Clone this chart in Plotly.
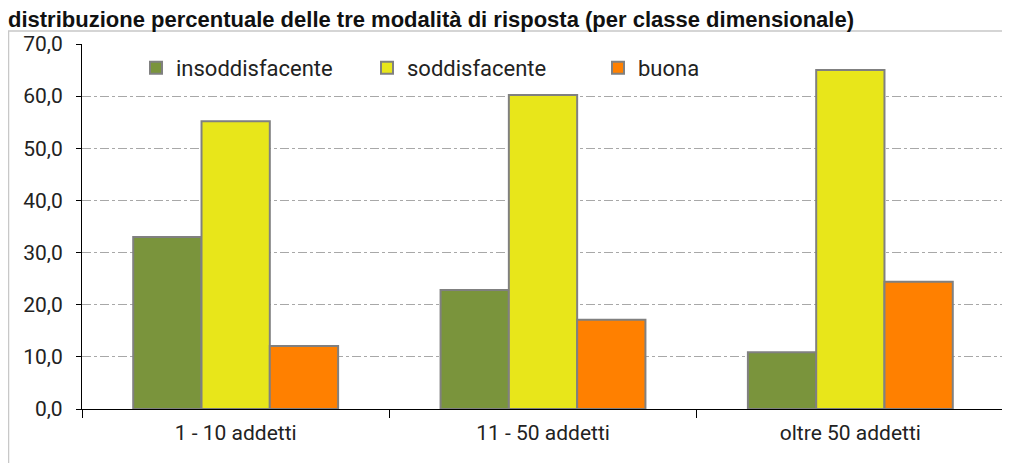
import plotly.graph_objects as go

categories = ["1 - 10 addetti", "11 - 50 addetti", "oltre 50 addetti"]
insoddisfacente = [33.0, 22.8, 10.9]
soddisfacente = [55.2, 60.2, 65.0]
buona = [12.1, 17.1, 24.4]
series_names = ["insoddisfacente", "soddisfacente", "buona"]
colors = ["#7A943C", "#E8E61A", "#FF8000"]
title_text = "distribuzione percentuale delle tre modalità di risposta (per classe dimensionale)"

# page is shown with an 8px body margin, so figure coords = page coords - 8
OFF = 8
W, H = 1010 - OFF, 463 - OFF
ml, mr, mt, mb = 82 - OFF, 6, 44 - OFF, 463 - 409
pw, ph = W - ml - mr, H - mt - mb

fig = go.Figure()
for name, vals, col in zip(series_names, [insoddisfacente, soddisfacente, buona], colors):
    fig.add_trace(go.Bar(
        x=categories, y=vals, name=name,
        marker=dict(color=col, line=dict(color="#808080", width=2)),
    ))

def px_x(p):  # page px -> paper x
    return (p - OFF - ml) / pw

def px_y(p):  # page px -> paper y
    return (H - mb - (p - OFF)) / ph

fig.add_shape(type="rect", xref="paper", yref="paper",
              x0=px_x(8.5), x1=px_x(1004), y0=px_y(480), y1=px_y(31),
              line=dict(color="#C8C8C8", width=1.5), fillcolor="rgba(0,0,0,0)", layer="below")

fig.update_layout(
    width=W, height=H,
    margin=dict(l=ml, r=mr, t=mt, b=mb),
    paper_bgcolor="white", plot_bgcolor="white",
    barmode="group", bargap=1/3, bargroupgap=0,
    separators=",.",
    showlegend=True,
    legend=dict(orientation="h", x=px_x(136), y=px_y(68), xanchor="left", yanchor="middle",
                font=dict(family="Roboto", size=22, color="#222222"),
                entrywidth=186, entrywidthmode="pixels", bgcolor="rgba(0,0,0,0)",
                itemclick=False),
    title=dict(text="<b>" + title_text + "</b>", x=0, xanchor="left",
               y=1 - 11 / H, yanchor="middle", yref="container",
               font=dict(family="Liberation Sans Narrow, Liberation Sans", size=22, color="#111111")),
    xaxis=dict(showline=True, linecolor="black", linewidth=1.2,
               ticks="outside", tickson="boundaries", ticklen=8, tickcolor="black",
               ticklabelstandoff=5,
               tickfont=dict(family="Roboto", size=21, color="#222222"),
               showgrid=False),
    yaxis=dict(range=[0, 70], dtick=10, tickformat=".1f",
               showline=True, linecolor="black", linewidth=1.2,
               ticks="outside", ticklen=5, tickcolor="black",
               ticklabelstandoff=9,
               tickfont=dict(family="Roboto", size=21, color="#222222"),
               showgrid=True, gridcolor="#A8A8A8", gridwidth=1, griddash="dashdot",
               zeroline=False),
)

fig.write_html("out.html")
